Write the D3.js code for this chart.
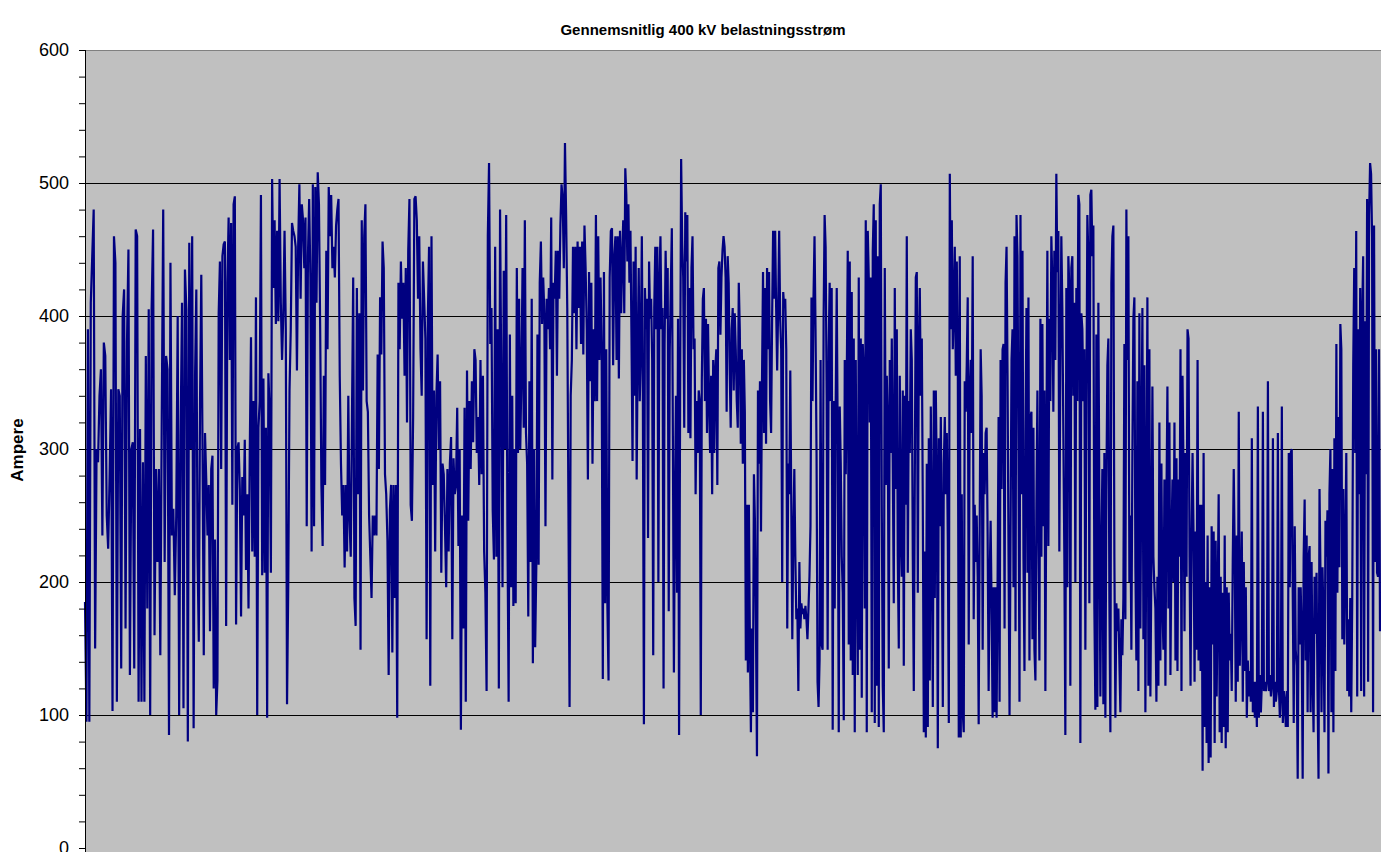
<!DOCTYPE html>
<html><head><meta charset="utf-8">
<script src="https://cdn.jsdelivr.net/npm/d3@7"></script>
<style>body{margin:0;background:#fff;}svg{display:block;font-family:"Liberation Sans",Arial,sans-serif;}</style>
</head><body>
<svg id="c" width="1381" height="852"></svg>
<script>
const title = "Gennemsnitlig 400 kV belastningsstrøm";
const yLabel = "Ampere";
const yTicks = [0,100,200,300,400,500,600];
const monthDays = [31,28,31,30,31,30,31,31,30,31,30,31];

const jan = [185,95,390,95,410,445,480,150,300,290,340,360,235,380,370,250,225,280,345,103,460,440,110,345,340,135,400,420,165,380,450,130,300,305,135,465,460,110,315,110,290,110,370,180,405,100,405,465,160,285,215,285,145,325,480,215,370,360,85,440,235,255,190,250,400,100,310,410,105,435,405,80,455,300,460,90];
const feb = [355,420,219,155,336,431,300,145,312,277,235,273,163,285,295,120,232,100,126,402,441,285,445,454,456,167,425,474,367,470,258,484,490,168,300,305,270,174,279,250,307,209,266,180,297,384,223,336,219,414,100,316,336,491,205,353,207,316,98,357,328,207,503,421,472,394,464,396,503,410,367,402,464,390,108,200,344,390,470,464];
const mar = [460,452,359,452,499,413,484,472,436,474,242,445,488,429,223,499,242,497,410,508,484,390,273,227,355,273,449,375,497,460,491,436,452,429,468,480,488,355,289,250,273,211,273,223,340,246,219,324,429,188,167,421,266,402,149,472,344,460,484,336,328,250,219,188,250,235,250,235,371,285,414,371,456,436,281,266,231,130,254,273,147,273,188,273,98,425,375,441,398,425];
const apr = [355,436,320,449,488,258,246,324,488,490,472,413,460,375,340,441,413,383,157,398,452,122,460,273,344,223,340,371,300,351,207,289,281,242,196,285,223,289,309,157,293,266,273,331,227,300,89,250,165,331,110,359,246,336,285,351,305,375,367,297,324,273,367,281,355,223,192,118,460,515,379,406,254,217,452,219,390,120,480,351,196,434,300,476,242,110,386];
const may = [196,340,182,300,184,436,297,413,300,355,436,316,472,312,289,174,351,215,413,139,300,151,211,386,213,425,456,394,429,402,242,413,390,421,375,474,277,425,413,449,355,449,413,468,499,488,436,530,476,406,258,106,340,367,452,402,452,375,456,406,452,379,456,371,468,436,390,277,433,351,425,289,390,336,476,336,460,367,429,375,127,433,184,375,182,126,429,464,466,363,445,460,367,460,353,464];
const jun = [402,445,472,402,511,491,441,484,425,464,383,291,441,340,452,277,375,436,336,375,460,336,93,421,390,413,233,441,398,413,367,145,406,452,390,452,200,425,460,390,406,120,379,449,398,436,178,375,421,466,312,132,258,340,192,398,85,336,518,456,429,316,478,441,476,312,421,308,436,460,375,383,266,336,297,344,336,100,351,413,421,336,398,312,394,336,297,355,266,367,297,359,375,273,436,441,386,429,449,460,452,429,328];
const jul = [445,425,359,316,390,406,344,402,375,336,316,425,390,304,375,289,367,328,141,258,132,258,157,87,165,102,281,246,165,69,344,289,351,238,351,433,312,421,304,436,375,433,336,312,398,464,413,464,406,359,406,464,398,375,200,418,406,413,375,165,289,266,359,258,157,235,285,219,172,180,118,215,165,184,176,180,172,182,172,157,180,204,242,414,336,414,460,390,297,125,106,141,367,153,149,398,476,452,340,149,375,425,336,421,89,336,180,336,421];
const aug = [304,87,332,289,219,192,96,367,281,351,449,153,441,141,418,130,383,87,367,219,130,429,149,383,113,379,355,180,472,87,464,429,320,429,102,449,484,94,472,122,445,91,484,499,258,122,87,436,273,355,320,135,367,297,383,289,184,421,270,390,219,150,355,238,204,344,137,340,258,460,207,336,297,390,367,219,118,277,429,433,192,375,421,340,383,258,87,223,83,289,91,308,126,332,242,106,344,188,344,277,75,308,242,324,238,106,289,324,266,312];
const sep = [231,94,507,390,472,375,406,452,355,441,375,83,445,83,266,102,87,351,328,363,414,153,344,367,312,445,172,258,215,250,204,93,238,375,340,149,297,266,312,316,235,118,200,246,180,98,196,102,196,98,200,324,110,367,270,375,379,165,425,452,355,219,100,235,367,390,196,460,163,476,445,297,110,476,266,449,219,133,312,406,207,414,141,324,328,157,316,149,126,258,344,231,141,398,219,394,242,344,118,289,449,227,398,336,460,425,328];
const oct = [449,367,507,433,464,223,367,460,406,312,219,85,421,196,445,421,122,436,445,340,410,200,421,336,491,484,79,402,390,336,375,149,328,476,445,184,491,495,445,468,180,104,386,106,410,258,114,223,285,108,297,98,270,363,383,188,87,425,460,468,219,98,184,163,180,141,102,172,145,188,379,172,480,367,460,200,250,149,297,398,414,211,141,351,118,402,165,300,406,157,363,102,258,414,122,375,114,215,347,219,196,180,110,204,122,320,141,289,184,149];
const nov = [277,122,258,347,180,320,130,227,277,200,320,141,293,133,277,219,375,118,355,285,163,297,204,390,383,219,122,235,297,235,125,238,149,367,141,258,133,258,58,297,91,200,79,235,64,196,68,242,153,238,79,231,114,188,266,87,204,79,192,91,235,75,196,87,192,141,161,118,215,285,219,110,235,125,328,137,180,238,110,215,133,196,98,141,114,133,110,308,102,125,98,125,91,332,98,130,102,125,328,118,125,118,125,351,118,130];
const dec = [114,122,308,106,125,110,118,312,122,98,114,332,94,118,110,91,118,91,297,196,297,300,192,94,242,149,137,52,196,153,196,161,52,219,262,141,235,102,219,227,102,215,130,87,204,161,207,118,52,270,204,102,211,172,87,246,219,254,56,266,300,102,285,87,308,133,379,192,324,211,394,375,157,270,153,219,297,118,172,114,188,102,188,363,436,297,464,114,390,266,421,118,398,445,114,396,281,488,125,476,515,507,460,102,468,215,375,207,204,375,163];

const months = [jan,feb,mar,apr,may,jun,jul,aug,sep,oct,nov,dec];

// build (day, value) pairs, each month's readings spread evenly over its days
const series = [];
let start = 0;
months.forEach((arr, m) => {
  const d = monthDays[m];
  arr.forEach((v, i) => series.push({t: start + i * d / arr.length, v}));
  start += d;
});

const svg = d3.select("#c");
const L = 85, R = 1381, T = 50, B = 848;
const x = d3.scaleLinear().domain([0, 365]).range([L, R]);
const y = d3.scaleLinear().domain([0, 600]).range([B, T]);

svg.append("rect").attr("x", L).attr("y", T).attr("width", R - L).attr("height", B - T + 4).attr("fill", "#c0c0c0");

// gridlines
svg.append("g").selectAll("line").data(yTicks.filter(d => d > 0 && d < 600)).join("line")
  .attr("x1", L).attr("x2", R).attr("y1", d => y(d) + 0.5).attr("y2", d => y(d) + 0.5)
  .attr("stroke", "#000").attr("stroke-width", 1);
// top border
svg.append("line").attr("x1", L).attr("x2", R).attr("y1", T + 0.5).attr("y2", T + 0.5).attr("stroke", "#808080");

// line
const line = d3.line().x(d => x(d.t)).y(d => y(d.v));
svg.append("path").datum(series).attr("d", line).attr("fill", "none")
  .attr("stroke", "#000080").attr("stroke-width", 2.2).attr("stroke-linejoin", "miter");

// minor ticks
svg.append("g").attr("transform", `translate(${L},0)`)
  .call(d3.axisLeft(y).tickValues(d3.range(0, 601, 20)).tickFormat("").tickSize(6))
  .call(g => g.select(".domain").remove())
  .call(g => g.selectAll("line").attr("stroke", "#000"));
// major axis
svg.append("g").attr("transform", `translate(${L},0)`)
  .call(d3.axisLeft(y).tickValues(yTicks).tickSize(6).tickPadding(10))
  .call(g => g.select(".domain").attr("stroke", "#000").attr("d", `M0.5,${T}V${B+4}`))
  .call(g => g.selectAll("line").attr("stroke", "#000"))
  .call(g => g.selectAll("text").attr("font-size", 18).attr("font-family", '"Liberation Sans",Arial,sans-serif').attr("fill", "#000"));

svg.append("text").attr("x", 703).attr("y", 35).attr("text-anchor", "middle")
  .attr("font-weight", "bold").attr("font-size", 15).text(title);
svg.append("text").attr("transform", "translate(23,450) rotate(-90)").attr("text-anchor", "middle")
  .attr("font-weight", "bold").attr("font-size", 17).text(yLabel);
</script>
</body></html>
